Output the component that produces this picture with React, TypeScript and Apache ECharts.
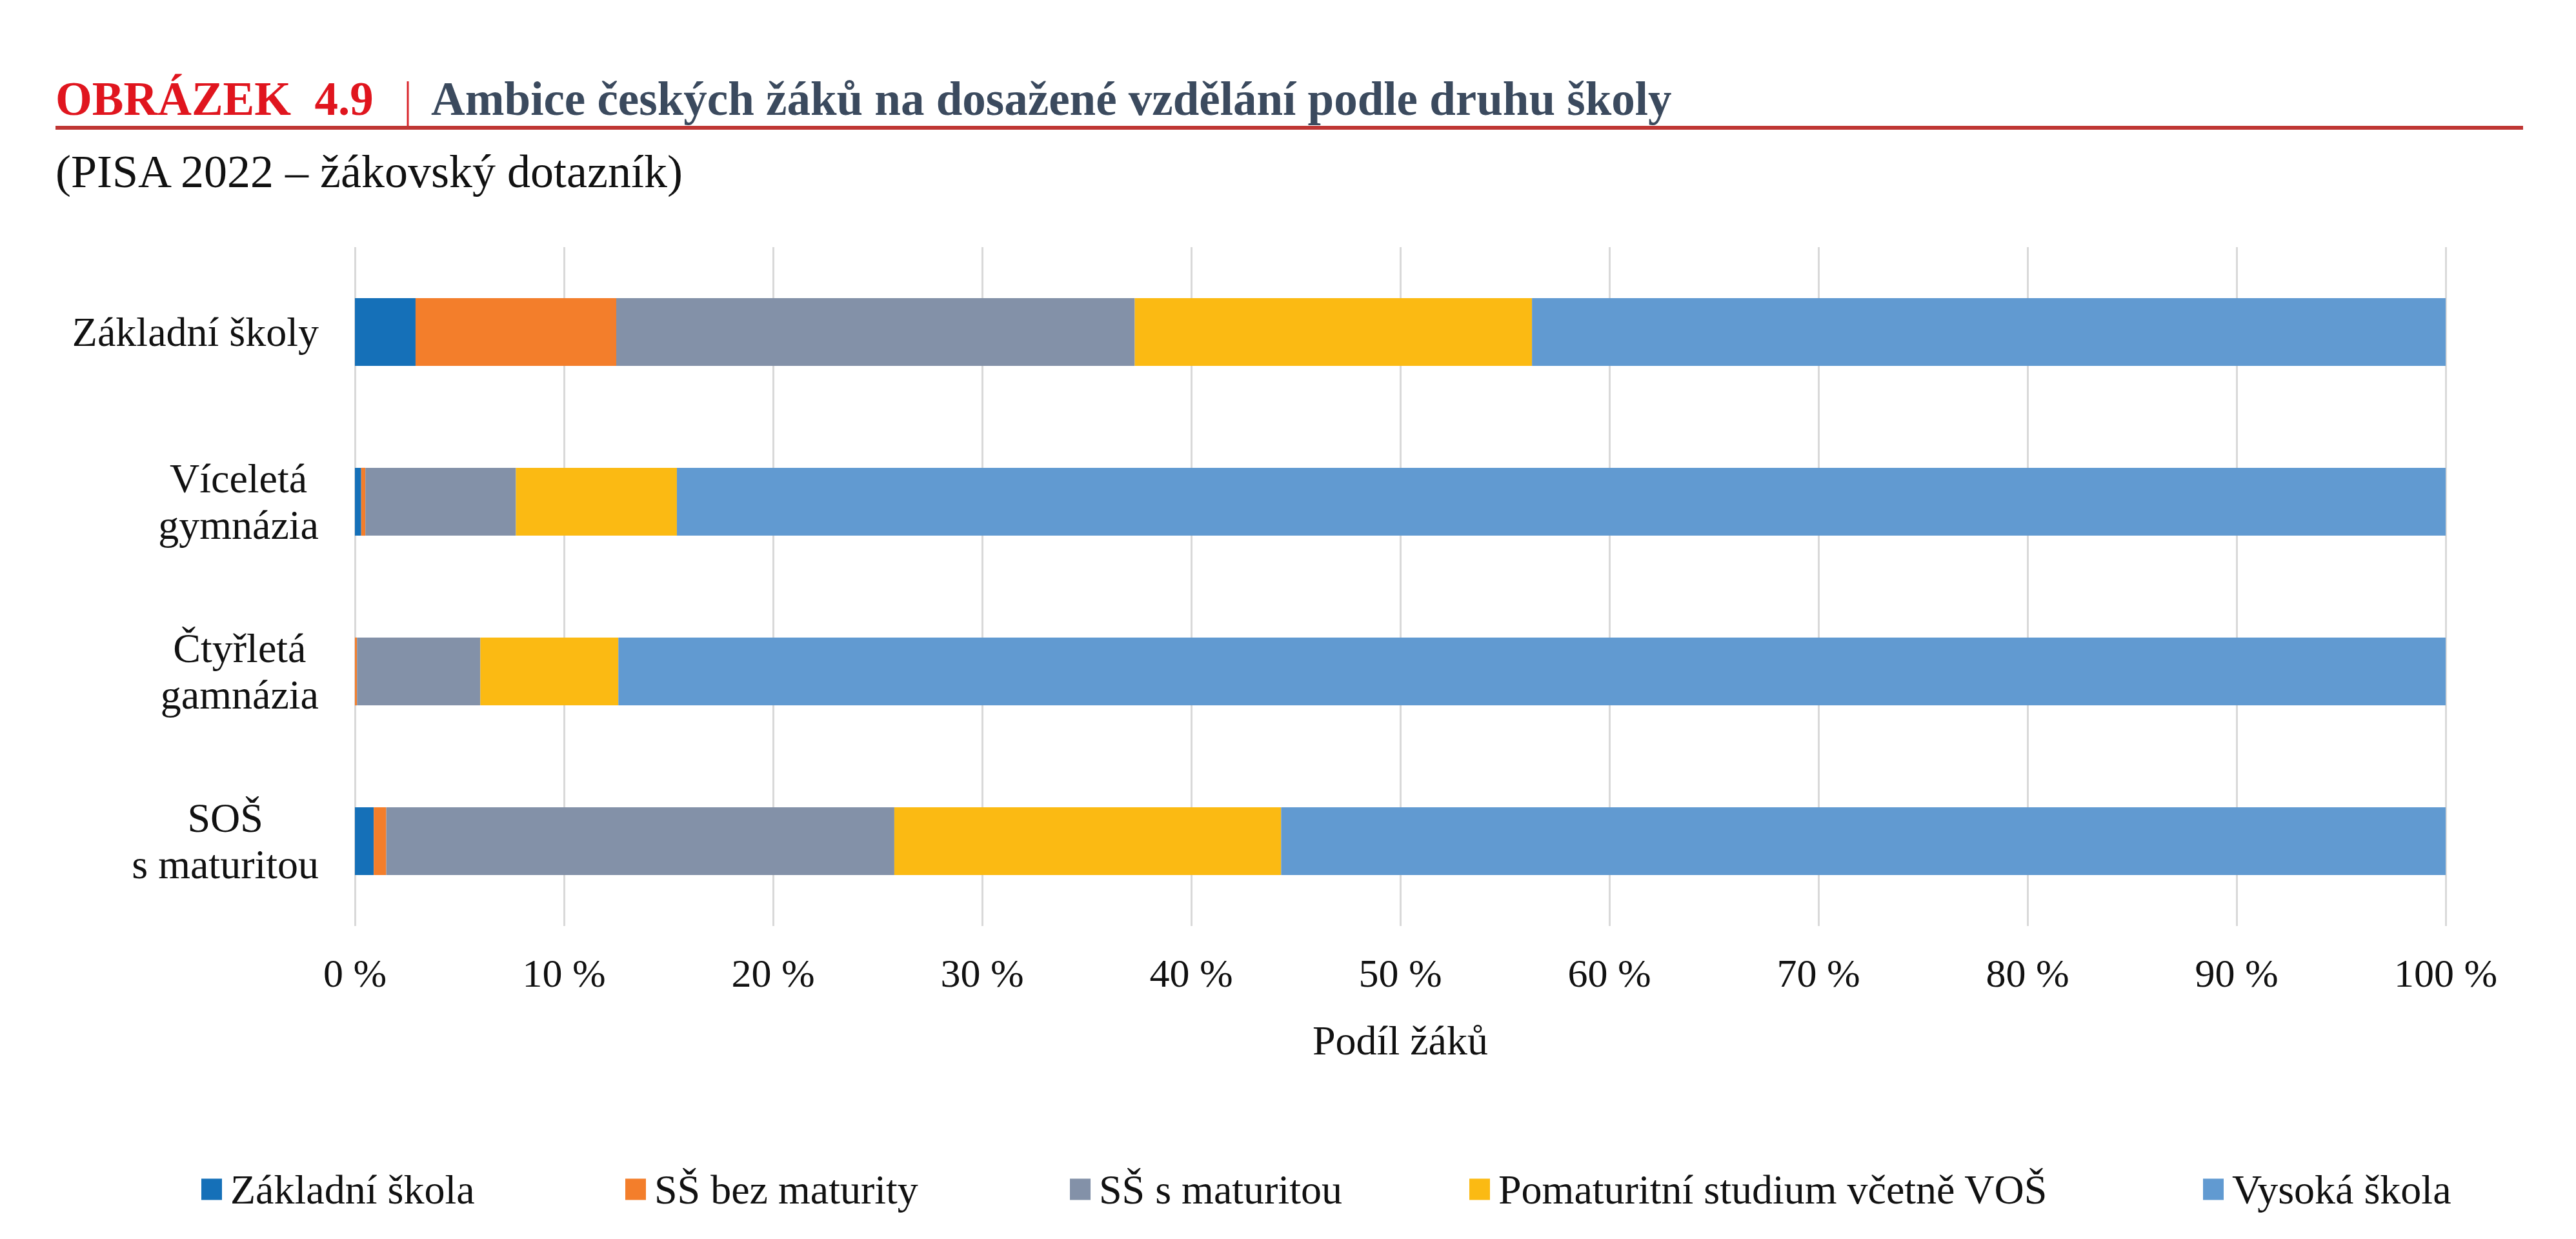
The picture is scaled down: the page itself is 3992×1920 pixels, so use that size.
import React, { useEffect, useRef } from "react";
import * as echarts from "echarts";

const categories = ["Základní školy", "Víceletá\ngymnázia", "Čtyřletá\ngamnázia", "SOŠ\ns maturitou"];
const seriesNames = ["Základní škola", "SŠ bez maturity", "SŠ s maturitou", "Pomaturitní studium včetně VOŠ", "Vysoká škola"];
const zakladniSkola = [2.9, 0.3, 0.0, 0.9];
const ssBezMaturity = [9.6, 0.2, 0.1, 0.6];
const ssSMaturitou = [24.8, 7.2, 5.9, 24.3];
const pomaturitni = [19.0, 7.7, 6.6, 18.5];
const vysokaSkola = [43.7, 84.6, 87.4, 55.7];
const xTicks = [0, 10, 20, 30, 40, 50, 60, 70, 80, 90, 100];
const colors = ["#1570B8", "#F37E2B", "#8391A8", "#FBBA13", "#619AD1"];
const legendLefts = [312, 969, 1658, 2277, 3414];

const FONT = "'Liberation Serif', 'Times New Roman', serif";

export default function App() {
  const ref = useRef<HTMLDivElement>(null);
  useEffect(() => {
    document.body.style.margin = "0";
    const chart = echarts.init(ref.current!, null, { renderer: "svg" });
    const values = [zakladniSkola, ssBezMaturity, ssSMaturitou, pomaturitni, vysokaSkola];
    const option: any = {
      animation: false,
      backgroundColor: "#ffffff",
      textStyle: { fontFamily: FONT },
      grid: { left: 550, right: 202, top: 383, bottom: 485, containLabel: false },
      xAxis: {
        type: "value",
        min: xTicks[0],
        max: xTicks[xTicks.length - 1],
        interval: 10,
        axisLine: { show: false },
        axisTick: { show: false },
        splitLine: { show: true, lineStyle: { color: "#D9D9D9", width: 3 } },
        axisLabel: {
          formatter: (v: number) => `${v} %`,
          fontSize: 62,
          fontFamily: FONT,
          color: "#111111",
          margin: 42,
        },
        name: "Podíl žáků",
        nameLocation: "middle",
        nameGap: 145,
        nameTextStyle: { fontSize: 64, fontFamily: FONT, color: "#111111" },
      },
      yAxis: {
        type: "category",
        data: categories,
        inverse: true,
        axisLine: { show: false },
        axisTick: { show: false },
        splitLine: { show: false },
        axisLabel: {
          margin: 56,
          formatter: (v: string) => v.split("\n").map((s) => `{c|${s}}`).join("\n"),
          rich: {
            c: { fontSize: 64, fontFamily: FONT, color: "#111111", lineHeight: 72, align: "center" },
          },
        },
      },
      legend: seriesNames.map((n, i) => ({
        data: [n],
        left: legendLefts[i],
        top: 1811,
        itemWidth: 32,
        itemHeight: 33,
        icon: "rect",
        padding: 0,
        textStyle: { fontSize: 64, fontFamily: FONT, color: "#111111", padding: [0, 0, 0, 8] },
      })),
      series: seriesNames.map((n, i) => ({
        name: n,
        type: "bar",
        stack: "total",
        barWidth: "40%",
        data: values[i],
        itemStyle: { color: colors[i] },
      })),
      graphic: [
        {
          type: "text",
          x: 86,
          y: 153,
          style: { text: "OBRÁZEK  4.9", font: `bold 73px ${FONT}`, fill: "#E0151E", verticalAlign: "middle", align: "left" },
        },
        {
          type: "line",
          shape: { x1: 632, y1: 126, x2: 632, y2: 196 },
          style: { stroke: "#D9242B", lineWidth: 3 },
        },
        {
          type: "text",
          x: 668,
          y: 153,
          style: {
            text: "Ambice českých žáků na dosažené vzdělání podle druhu školy",
            font: `bold 73px ${FONT}`,
            fill: "#3B4A5E",
            verticalAlign: "middle",
            align: "left",
          },
        },
        {
          type: "line",
          shape: { x1: 86, y1: 198, x2: 3910, y2: 198 },
          style: { stroke: "#BF3634", lineWidth: 6 },
        },
        {
          type: "text",
          x: 86,
          y: 266,
          style: { text: "(PISA 2022 – žákovský dotazník)", font: `72px ${FONT}`, fill: "#111111", verticalAlign: "middle", align: "left" },
        },
      ],
    };
    chart.setOption(option);
    return () => chart.dispose();
  }, []);
  return <div ref={ref} style={{ width: 3992, height: 1920 }} />;
}
